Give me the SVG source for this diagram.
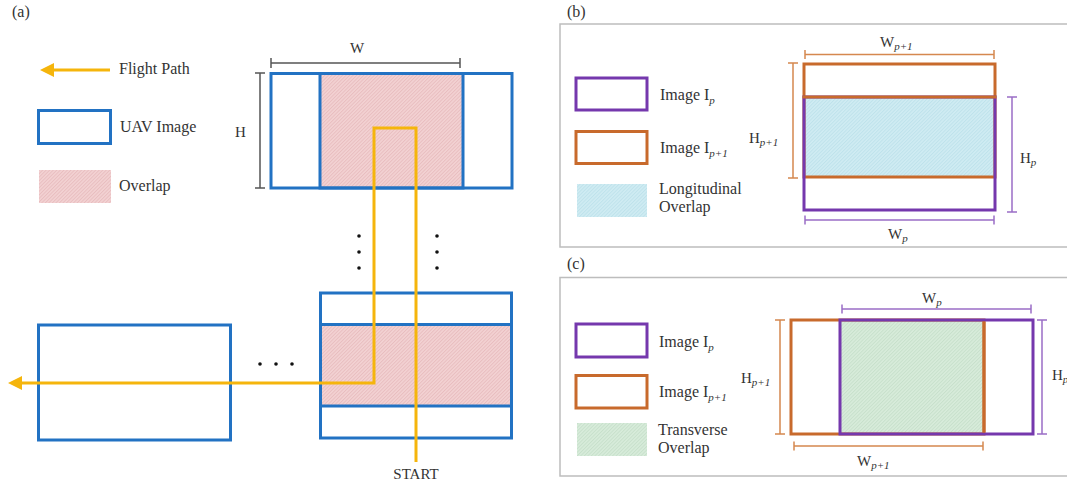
<svg xmlns="http://www.w3.org/2000/svg" width="1067" height="484" viewBox="0 0 1067 484">
  <style>
    text { font-family: "Liberation Serif", "Times New Roman", serif; fill: #333333; }
    .lbl { font-size: 16px; }
    .dim-t { font-size: 15px; }
    .sub { font-size: 11px; font-style: italic; }
    .uav { fill: none; stroke: #2272c3; stroke-width: 3; }
    .path { fill: none; stroke: #f5b50c; stroke-width: 3; }
    .imgP { fill: none; stroke: #7538ad; stroke-width: 3; }
    .imgQ { fill: none; stroke: #c86a2c; stroke-width: 3; }
    .dimA { fill: none; stroke: #555555; stroke-width: 1.5; }
    .dimP { fill: none; stroke: #9a6ec6; stroke-width: 1.5; }
    .dimQ { fill: none; stroke: #d5884f; stroke-width: 1.5; }
    .panel { fill: none; stroke: #bdbdbd; stroke-width: 1.5; }
  </style>
  <defs>
    <!-- fine diagonal hatch fills for the overlap areas -->
    <pattern id="hatchPink" width="2.5" height="2.5" patternUnits="userSpaceOnUse" patternTransform="rotate(45)">
      <rect width="2.5" height="2.5" fill="#f3d2d3"/>
      <line x1="0.5" y1="0" x2="0.5" y2="2.5" stroke="#e8bcbe" stroke-width="0.9"/>
    </pattern>
    <pattern id="hatchCyan" width="2.5" height="2.5" patternUnits="userSpaceOnUse" patternTransform="rotate(45)">
      <rect width="2.5" height="2.5" fill="#d0ecf3"/>
      <line x1="0.5" y1="0" x2="0.5" y2="2.5" stroke="#bde2eb" stroke-width="0.9"/>
    </pattern>
    <pattern id="hatchGreen" width="2.5" height="2.5" patternUnits="userSpaceOnUse" patternTransform="rotate(45)">
      <rect width="2.5" height="2.5" fill="#d8ecdb"/>
      <line x1="0.5" y1="0" x2="0.5" y2="2.5" stroke="#c6e0ca" stroke-width="0.9"/>
    </pattern>
    <marker id="arrowHead" viewBox="0 0 14 14" markerWidth="14" markerHeight="14" refX="2" refY="7" orient="auto" markerUnits="userSpaceOnUse">
      <path d="M0,0 L14,7 L0,14 Z" fill="#f5b50c"/>
    </marker>
  </defs>

  <rect width="1067" height="484" fill="#ffffff"/>

  <!-- ===== (a) flight path over UAV images ===== -->
  <text class="lbl" x="12" y="17">(a)</text>

  <g id="legend-a">
    <path class="path" d="M110,70 H52" marker-end="url(#arrowHead)"/>
    <text class="lbl" x="119" y="74">Flight Path</text>
    <rect class="uav" x="38.5" y="110.5" width="72" height="33"/>
    <text class="lbl" x="120" y="132">UAV Image</text>
    <rect x="39" y="170" width="72" height="33" fill="url(#hatchPink)"/>
    <text class="lbl" x="119" y="191">Overlap</text>
  </g>

  <g id="image-pair-top">
    <rect x="320" y="73" width="143" height="115" fill="url(#hatchPink)"/>
    <rect class="uav" x="271" y="73.5" width="192" height="114.5"/>
    <rect class="uav" x="320" y="73.5" width="192" height="114.5"/>
  </g>

  <g id="dims-a">
    <path class="dimA" d="M271,63 H460 M271,58 V68 M460,58 V68"/>
    <text class="dim-t" x="357" y="53" text-anchor="middle">W</text>
    <path class="dimA" d="M260,73 V188 M255,73 H265 M255,188 H265"/>
    <text class="dim-t" x="235" y="137">H</text>
  </g>

  <g id="ellipsis" fill="#111111">
    <circle cx="359" cy="236" r="1.8"/>
    <circle cx="359" cy="252" r="1.8"/>
    <circle cx="359" cy="268" r="1.8"/>
    <circle cx="437" cy="236" r="1.8"/>
    <circle cx="437" cy="252" r="1.8"/>
    <circle cx="437" cy="268" r="1.8"/>
    <circle cx="260" cy="364" r="1.8"/>
    <circle cx="276" cy="364" r="1.8"/>
    <circle cx="292" cy="364" r="1.8"/>
  </g>

  <g id="image-left">
    <rect class="uav" x="38.5" y="325" width="192" height="115"/>
  </g>

  <g id="image-pair-bottom">
    <rect x="320" y="324" width="192" height="82" fill="url(#hatchPink)"/>
    <rect class="uav" x="320.5" y="293" width="191" height="145"/>
    <path class="uav" d="M320,324.5 H512 M320,406 H512"/>
  </g>

  <g id="connectors">
    <path class="path" d="M416,462 V128 H374 V383 H20" marker-end="url(#arrowHead)"/>
  </g>
  <text class="dim-t" x="416" y="479" text-anchor="middle">START</text>

  <!-- ===== (b) longitudinal overlap ===== -->
  <text class="lbl" x="567" y="17">(b)</text>
  <rect class="panel" x="560" y="24" width="530" height="223"/>

  <g id="legend-b">
    <rect class="imgP" x="576" y="78" width="71" height="32"/>
    <text class="lbl" x="660" y="100">Image I<tspan class="sub" dy="4">p</tspan></text>
    <rect class="imgQ" x="576" y="131.5" width="71" height="32"/>
    <text class="lbl" x="660" y="153">Image I<tspan class="sub" dy="4">p+1</tspan></text>
    <rect x="577" y="184" width="70" height="33" fill="url(#hatchCyan)"/>
    <text class="lbl" x="659" y="194">Longitudinal</text>
    <text class="lbl" x="659" y="212">Overlap</text>
  </g>

  <g id="pair-b">
    <rect x="804" y="97" width="191" height="80" fill="url(#hatchCyan)"/>
    <rect class="imgQ" x="804" y="64" width="191" height="113"/>
    <rect class="imgP" x="804" y="97" width="191" height="113"/>
    <path class="imgQ" d="M802.5,97 H996.5"/>
  </g>

  <g id="dims-b">
    <path class="dimQ" d="M805,54.5 H994 M805,50 V59 M994,50 V59"/>
    <text class="dim-t" x="880" y="47">W<tspan class="sub" dy="3">p+1</tspan></text>
    <path class="dimQ" d="M793,63 V178 M788,63 H798 M788,178 H798"/>
    <text class="dim-t" x="749" y="143">H<tspan class="sub" dy="3">p+1</tspan></text>
    <path class="dimP" d="M1012,97 V212 M1007,97 H1017 M1007,212 H1017"/>
    <text class="dim-t" x="1020" y="163">H<tspan class="sub" dy="3">p</tspan></text>
    <path class="dimP" d="M805,220 H994 M805,215.5 V224.5 M994,215.5 V224.5"/>
    <text class="dim-t" x="888" y="239">W<tspan class="sub" dy="3">p</tspan></text>
  </g>

  <!-- ===== (c) transverse overlap ===== -->
  <text class="lbl" x="567" y="269">(c)</text>
  <rect class="panel" x="560" y="277.5" width="530" height="198.5"/>

  <g id="legend-c">
    <rect class="imgP" x="576" y="324" width="71" height="33"/>
    <text class="lbl" x="659" y="347">Image I<tspan class="sub" dy="4">p</tspan></text>
    <rect class="imgQ" x="576" y="375.5" width="71" height="32.5"/>
    <text class="lbl" x="659" y="397">Image I<tspan class="sub" dy="4">p+1</tspan></text>
    <rect x="577" y="423" width="70" height="33" fill="url(#hatchGreen)"/>
    <text class="lbl" x="658" y="435">Transverse</text>
    <text class="lbl" x="658" y="453">Overlap</text>
  </g>

  <g id="pair-c">
    <rect x="840" y="320" width="144" height="114" fill="url(#hatchGreen)"/>
    <rect class="imgQ" x="791" y="320" width="193" height="114"/>
    <rect class="imgP" x="840" y="320" width="193" height="114"/>
    <path class="imgQ" d="M984,321.5 V432.5"/>
  </g>

  <g id="dims-c">
    <path class="dimP" d="M842,309 H1031 M842,304.5 V313.5 M1031,304.5 V313.5"/>
    <text class="dim-t" x="922" y="303">W<tspan class="sub" dy="3">p</tspan></text>
    <path class="dimQ" d="M794,446 H983 M794,441.5 V450.5 M983,441.5 V450.5"/>
    <text class="dim-t" x="857" y="466">W<tspan class="sub" dy="3">p+1</tspan></text>
    <path class="dimQ" d="M780,320 V434 M775,320 H785 M775,434 H785"/>
    <text class="dim-t" x="741" y="383">H<tspan class="sub" dy="3">p+1</tspan></text>
    <path class="dimP" d="M1042,320 V434 M1037,320 H1047 M1037,434 H1047"/>
    <text class="dim-t" x="1052" y="380">H<tspan class="sub" dy="3">p</tspan></text>
  </g>
</svg>
